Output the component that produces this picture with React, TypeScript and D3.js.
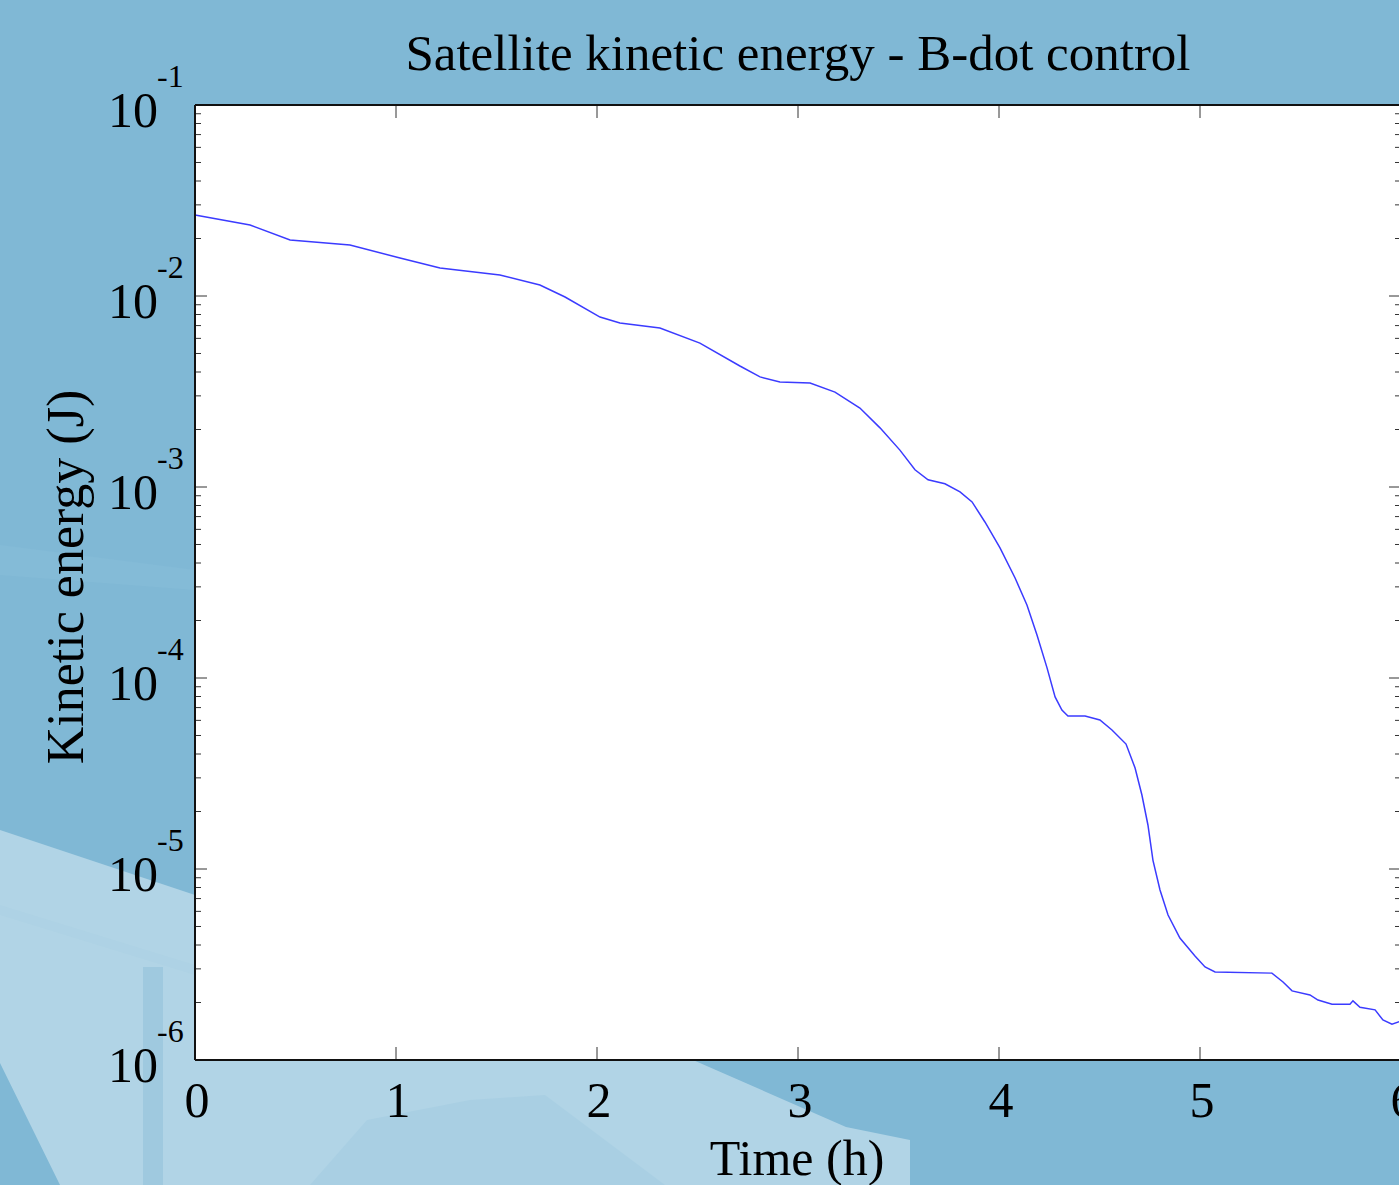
import React from "react";
import * as d3 from "d3";

const W = 1399;
const H = 1185;

const titleText = "Satellite kinetic energy - B-dot control";
const xLabel = "Time (h)";
const yLabel = "Kinetic energy (J)";

const xTicks = [0, 1, 2, 3, 4, 5, 6];
const yExponents = [-1, -2, -3, -4, -5, -6];

// time in hours
const timeH = [
  0, 0.274, 0.473, 0.771, 1.02, 1.219, 1.517, 1.716, 1.841, 2.015, 2.114, 2.313,
  2.512, 2.711, 2.811, 2.91, 3.06, 3.184, 3.308, 3.408, 3.507, 3.582, 3.647,
  3.731, 3.806, 3.866, 3.93, 4.005, 4.08, 4.139, 4.189, 4.239, 4.279, 4.313,
  4.343, 4.428, 4.502, 4.562, 4.632, 4.677, 4.711, 4.741, 4.766, 4.801, 4.841,
  4.9, 4.975, 5.025, 5.075, 5.358, 5.413, 5.458, 5.547, 5.587, 5.657, 5.746,
  5.761, 5.796, 5.871, 5.91, 5.955, 6.0,
];

// kinetic energy in J
const energyJ = [
  0.02655, 0.02354, 0.01965, 0.01849, 0.01581, 0.01402, 0.01288, 0.01142,
  0.00988, 0.00776, 0.00722, 0.0068, 0.00567, 0.0043, 0.00377, 0.00355, 0.0035,
  0.00314, 0.00259, 0.00204, 0.00156, 0.00123, 0.00109, 0.00104, 0.000942,
  0.000835, 0.000656, 0.00048, 0.000334, 0.000241, 0.000168, 0.000113,
  0.0000796, 0.000068, 0.0000632, 0.0000632, 0.0000603, 0.0000534, 0.0000451,
  0.0000338, 0.0000244, 0.000017, 0.0000111, 0.00000776, 0.00000574,
  0.00000435, 0.0000035, 0.00000307, 0.00000289, 0.00000285, 0.00000256,
  0.0000023, 0.00000219, 0.00000206, 0.00000196, 0.00000196, 0.00000204,
  0.00000189, 0.00000183, 0.00000162, 0.00000154, 0.0000016,
];

const FONT = "'Liberation Serif', 'Times New Roman', serif";

export default function App() {
  const left = 195;
  const right = 1401;
  const top = 105;
  const bottom = 1060;

  const x = d3.scaleLinear().domain([0, 6]).range([left, right]);
  const y = d3.scaleLog().domain([1e-6, 1e-1]).range([bottom, top]);

  const data = timeH.map((t, i) => ({ t, v: energyJ[i] }));
  const line = d3
    .line<{ t: number; v: number }>()
    .x((d) => x(d.t))
    .y((d) => y(d.v))
    .curve(d3.curveLinear);

  const minorTicks: number[] = [];
  for (let e = -6; e < -1; e++) {
    for (let m = 2; m <= 9; m++) minorTicks.push(m * Math.pow(10, e));
  }

  return (
    <svg
      width={W}
      height={H}
      style={{ position: "absolute", left: 0, top: 0, display: "block" }}
    >
      {/* background */}
      <rect x={0} y={0} width={W} height={H} fill="#80b8d5" />
      <polygon points="0,545 195,570 195,590 0,575" fill="#84bbd7" />
      <polygon
        points="0,830 195,895 195,1060 693,1060 846,1127 910,1140 910,1185 60,1185 0,1063"
        fill="#b1d4e6"
      />
      <polygon points="0,905 195,965 195,975 0,915" fill="#aed2e5" />
      <polygon
        points="310,1185 367,1120 470,1100 545,1095 665,1185"
        fill="#a9cfe3"
      />
      <rect x={143} y={967} width={20} height={218} fill="#9fc9df" />

      {/* plot area */}
      <rect
        x={left}
        y={top}
        width={right - left}
        height={bottom - top}
        fill="#ffffff"
      />

      {/* data line */}
      <path
        d={line(data) || ""}
        fill="none"
        stroke="#3b3bff"
        strokeWidth={1.5}
      />

      {/* ticks */}
      <g stroke="#333" strokeWidth={1}>
        {yExponents.map((e) => {
          const yy = y(Math.pow(10, e));
          return (
            <g key={"yt" + e}>
              <line x1={left} x2={left + 12} y1={yy} y2={yy} />
              <line x1={right - 12} x2={right} y1={yy} y2={yy} />
            </g>
          );
        })}
        {minorTicks.map((v, i) => {
          const yy = y(v);
          return (
            <g key={"ym" + i}>
              <line x1={left} x2={left + 6} y1={yy} y2={yy} />
              <line x1={right - 6} x2={right} y1={yy} y2={yy} />
            </g>
          );
        })}
        {xTicks.map((t) => {
          const xx = x(t);
          return (
            <g key={"xt" + t}>
              <line x1={xx} x2={xx} y1={bottom} y2={bottom - 13} />
              <line x1={xx} x2={xx} y1={top} y2={top + 13} />
            </g>
          );
        })}
      </g>

      {/* axes frame */}
      <g stroke="#111" strokeWidth={2} fill="none">
        <line x1={left} x2={left} y1={top} y2={bottom} />
        <line x1={left} x2={right} y1={bottom} y2={bottom} />
        <line x1={left} x2={right} y1={top} y2={top} />
        <line x1={right} x2={right} y1={top} y2={bottom} />
      </g>

      {/* y tick labels */}
      <g fontFamily={FONT} fill="#000">
        {yExponents.map((e) => {
          const yy = y(Math.pow(10, e));
          return (
            <g key={"yl" + e}>
              <text x={158} y={yy + 22} fontSize={50} textAnchor="end">
                10
              </text>
              <text x={157} y={yy - 18} fontSize={32} textAnchor="start">
                {String(e)}
              </text>
            </g>
          );
        })}
      </g>

      {/* x tick labels */}
      <g fontFamily={FONT} fill="#000">
        {xTicks.map((t) => (
          <text
            key={"xl" + t}
            x={x(t) + 2}
            y={1117}
            fontSize={50}
            textAnchor="middle"
          >
            {String(t)}
          </text>
        ))}
      </g>

      {/* title and labels */}
      <text
        x={(left + right) / 2}
        y={70}
        fontFamily={FONT}
        fontSize={51}
        textAnchor="middle"
        fill="#000"
      >
        {titleText}
      </text>
      <text
        x={797}
        y={1175}
        fontFamily={FONT}
        fontSize={50}
        textAnchor="middle"
        fill="#000"
      >
        {xLabel}
      </text>
      <text
        transform={`translate(83,577) rotate(-90)`}
        fontFamily={FONT}
        fontSize={52}
        textAnchor="middle"
        fill="#000"
      >
        {yLabel}
      </text>
    </svg>
  );
}
